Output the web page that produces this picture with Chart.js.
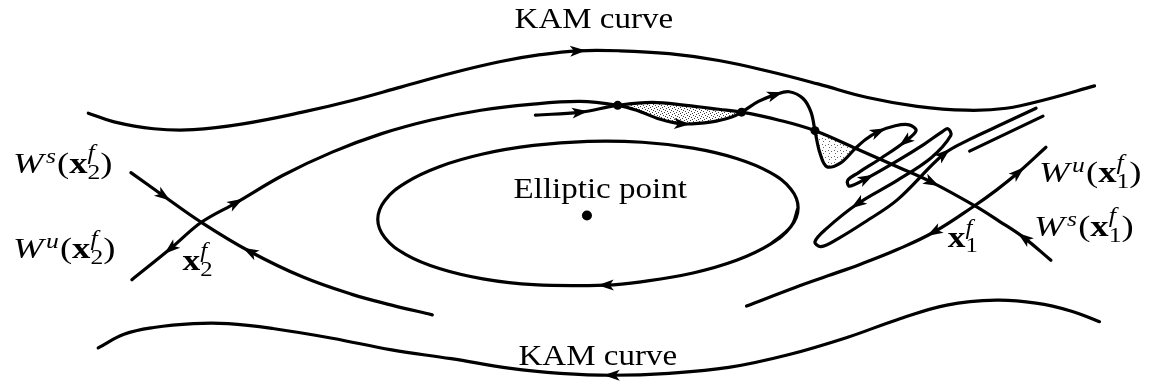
<!DOCTYPE html>
<html>
<head>
<meta charset="utf-8">
<script src="https://cdn.jsdelivr.net/npm/chart.js@4.4.1/dist/chart.umd.min.js"></script>
<style>
  html, body { margin: 0; padding: 0; background: #fff; overflow: hidden; }
  canvas { display: block; }
</style>
</head>
<body>
<canvas id="tangle" width="1161" height="389"></canvas>
<script>
// Phase-plane sketch of a homoclinic tangle between two KAM curves.
// Coordinates are in sketch units: x to the right, y downwards.

const kamUpper = [[84,111],[110,120],[150,127],[190,128],[240,122],[300,110],[350,98],[400,84],[450,70],[500,58],[540,51],[578,47],[620,47],[670,50],[720,57],[770,68],[820,81],[870,95],[920,104],[970,108],[1010,106],[1050,97],[1099,83]];
const kamLower = [[94,352],[120,338],[150,331],[190,327],[225,327],[270,332],[330,342],[390,354],[450,363],[510,373],[560,378],[612,380],[670,378],[730,372],[790,359],[850,341],[900,323],[950,308],[1000,303],[1040,306],[1075,314],[1104,325]];

// closed orbit around the elliptic point (first points repeated at the end to close it smoothly)
const orbit = [[800,208],[792.8,227.4],[771.6,245.8],[737.9,262.1],[694,275.1],[642.9,283.9],[606,287.5],[533.1,287.1],[482,281.1],[438.1,270.5],[404.4,256.2],[383.2,239],[376,220],[383.2,200.6],[404.4,182.2],[438.1,165.9],[482,152.9],[533.1,144.1],[588,140],[642.9,140.9],[694,146.9],[737.9,157.5],[771.6,171.8],[792.8,189],[800,208],[792.8,227.4],[771.6,245.8]];

// manifolds of the hyperbolic point x2
const stableX2 = [[127,172],[160,196],[198,223],[247,253],[300,279],[350,297],[390,308],[431,318]];
const unstableX2 = [[128,282],[167,250],[198,223],[233,203],[280,175],[330,151],[380,132],[430,118],[480,108],[530,102],[580,99],[618,103],
  [637,108],[660,117],[683,122],[713,120],[733,115],[743,110],
  [760,99],[777,92],[791,89],[805,96],[813,110],[817,129],
  [822,152],[829,166],[843,162],[857,148],[868,138],[881,130],[898,124],[912,123],[919,129],[908,140],[884,157],[861,172],[850,180],[852,186],
  [869,178],[900,160],[927,143],[944,131],[951,127],[954,134],[934,157],[900,180],[860,204],[828,230],[817,243],[823,248],[840,240],[867,223],[900,200],[947,153],[973,138],[1000,125],[1040,106]];
const unstableX2Piece = [[973,150],[1010,132],[1047,114]];

// manifolds of the hyperbolic point x1
const stableX1 = [[535,113],[580,110],[618,103],[653,100],[687,103],[720,107],[743,110],[780,118],[817,129],[860,148],[900,166],[935,182],[978,206],[1003,222],[1028,239],[1055,262]];
const unstableX1 = [[748,309],[797,290],[830,278],[863,266],[900,251],[937,233],[978,206],[1000,190],[1022,172],[1050,146]];

// lobes bounded by the two manifolds
const lobeA = [[618,103],[653,100],[687,103],[720,107],[743,110],[733,115],[713,120],[683,122],[660,117],[637,108],[618,103]];
const lobeB = [[817,129],[822,150],[829,165],[843,162],[857,148],[838,138],[817,129]];

const homoclinicPoints = [[618,103],[743,110],[817,129]];
const ellipticPoint = [[587,216]];

// flow direction marks: [point index, +1 along the list / -1 against it]
const kamUpperArrows = [[11, 1]];
const kamLowerArrows = [[11, -1]];
const orbitArrows = [[6, 1]];
const stableX2Arrows = [[1, 1], [3, -1]];
const unstableX2Arrows = [[1, -1], [3, 1], [14, 1], [19, 1], [29, 1], [33, 1], [38, 1], [46, 1], [53, 1]];
const stableX1Arrows = [[1, 1], [11, 1], [14, -1]];
const unstableX1Arrows = [[5, -1], [8, 1]];

// text
const kamText = 'KAM curve';
const ellipticText = 'Elliptic point';
const wsX2 = [['W','it'],['s','it','sup'],['(','rm'],['x','bf'],['f','it','supStack'],['2','rm','sub'],[')','rm']];
const wuX2 = [['W','it'],['u','it','sup'],['(','rm'],['x','bf'],['f','it','supStack'],['2','rm','sub'],[')','rm']];
const wuX1 = [['W','it'],['u','it','sup'],['(','rm'],['x','bf'],['f','it','supStack'],['1','rm','sub'],[')','rm']];
const wsX1 = [['W','it'],['s','it','sup'],['(','rm'],['x','bf'],['f','it','supStack'],['1','rm','sub'],[')','rm']];
const x2Name = [['x','bf'],['f','it','supStack'],['2','rm','sub']];
const x1Name = [['x','bf'],['f','it','supStack'],['1','rm','sub']];

const SERIF = '"Liberation Serif", "Times New Roman", serif';
const textLayout = [
  { runs: [[kamText, 'rm']], at: [514, 24], size: 30, stretch: 1.1 },
  { runs: [[kamText, 'rm']], at: [518, 370], size: 30, stretch: 1.1 },
  { runs: [[ellipticText, 'rm']], at: [513, 198], size: 30, stretch: 1.1 },
  { runs: wsX2, at: [8, 172], size: 30, stretch: 1.22 },
  { runs: wuX2, at: [8, 260], size: 30, stretch: 1.22 },
  { runs: x2Name, at: [179, 272], size: 29, stretch: 1.22 },
  { runs: wuX1, at: [1043, 182], size: 30, stretch: 1.22 },
  { runs: wsX1, at: [1038, 237], size: 30, stretch: 1.22 },
  { runs: x1Name, at: [951, 248], size: 29, stretch: 1.22 }
];

const toXY = pts => pts.map(([x, y]) => ({ x, y }));

function stipple(density, alpha) {
  const c = document.createElement('canvas');
  c.width = 6; c.height = 6;
  const g = c.getContext('2d');
  g.fillStyle = 'rgba(0,0,0,' + alpha + ')';
  const spots = [[0,0],[3,1],[1,3],[4,4],[2,5],[5,2]];
  spots.slice(0, density).forEach(([a, b]) => g.fillRect(a, b, 1, 1));
  return g.createPattern(c, 'repeat');
}

function curve(points, arrows, extra) {
  return Object.assign({
    data: toXY(points),
    showLine: true,
    borderColor: '#000',
    borderWidth: 3.2,
    borderCapStyle: 'round',
    borderJoinStyle: 'round',
    pointRadius: 0,
    pointHoverRadius: 0,
    tension: 0.4,
    fill: false,
    flowArrows: arrows || []
  }, extra || {});
}

const flowArrowPlugin = {
  id: 'flowArrows',
  afterDatasetsDraw(chart) {
    const ctx = chart.ctx;
    chart.data.datasets.forEach((ds, di) => {
      if (!ds.flowArrows || !ds.flowArrows.length) return;
      const pts = chart.getDatasetMeta(di).data;
      ds.flowArrows.forEach(([i, sense]) => {
        const p = pts[i];
        let dx = p.cp2x - p.cp1x, dy = p.cp2y - p.cp1y;
        if (!isFinite(dx) || !isFinite(dy) || Math.hypot(dx, dy) < 1e-3) {
          const a = pts[Math.max(i - 1, 0)], b = pts[Math.min(i + 1, pts.length - 1)];
          dx = b.x - a.x; dy = b.y - a.y;
        }
        const len = Math.hypot(dx, dy);
        const ux = sense * dx / len, uy = sense * dy / len;
        const nx = -uy, ny = ux;
        ctx.save();
        ctx.fillStyle = '#000';
        ctx.beginPath();
        ctx.moveTo(p.x + ux * 8, p.y + uy * 8);
        ctx.lineTo(p.x - ux * 8 + nx * 5.5, p.y - uy * 8 + ny * 5.5);
        ctx.lineTo(p.x - ux * 4, p.y - uy * 4);
        ctx.lineTo(p.x - ux * 8 - nx * 5.5, p.y - uy * 8 - ny * 5.5);
        ctx.closePath();
        ctx.fill();
        ctx.restore();
      });
    });
  }
};

function fontSpec(style, px) {
  const pre = style === 'it' ? 'italic ' : style === 'bf' ? 'bold ' : '';
  return pre + px + 'px ' + SERIF;
}

function drawRuns(ctx, runs, x, y, size, stretch) {
  ctx.save();
  ctx.translate(x, y);
  ctx.scale(stretch, 1);
  ctx.textBaseline = 'alphabetic';
  ctx.textAlign = 'left';
  ctx.fillStyle = '#000';
  let pen = 0, held = 0;
  runs.forEach(([text, style, place]) => {
    const script = !!place;
    const px = script ? size * 0.7 : size;
    ctx.font = fontSpec(style, px);
    const w = ctx.measureText(text).width;
    let dy = 0;
    if (place === 'sup') dy = -size * 0.33;
    if (place === 'supStack') dy = -size * 0.45;
    if (place === 'sub') dy = size * 0.2;
    const lift = place === 'sup' ? size * 0.04 : 0;
    ctx.fillText(text, pen + lift, dy);
    if (place === 'supStack') {
      held = w;
    } else {
      pen += Math.max(w + lift, held) + (style === 'it' ? size * 0.03 : 0);
      held = 0;
    }
  });
  ctx.restore();
}

const labelPlugin = {
  id: 'labels',
  afterDraw(chart) {
    const { ctx, scales } = chart;
    textLayout.forEach(item => {
      const px = scales.x.getPixelForValue(item.at[0]);
      const py = scales.y.getPixelForValue(item.at[1]);
      drawRuns(ctx, item.runs, px, py, item.size, item.stretch);
    });
  }
};

const datasets = [
  { data: toXY(homoclinicPoints), showLine: false, pointRadius: 4.5, pointBackgroundColor: '#000', pointBorderWidth: 0, pointHoverRadius: 4.5 },
  { data: toXY(ellipticPoint), showLine: false, pointRadius: 5, pointBackgroundColor: '#000', pointBorderWidth: 0, pointHoverRadius: 5 },
  curve(kamUpper, kamUpperArrows),
  curve(kamLower, kamLowerArrows),
  curve(orbit, orbitArrows),
  curve(stableX2, stableX2Arrows),
  curve(unstableX2, unstableX2Arrows, { tension: 0.35 }),
  curve(unstableX2Piece, []),
  curve(stableX1, stableX1Arrows),
  curve(unstableX1, unstableX1Arrows),
  curve(lobeA, [], { borderWidth: 0, fill: 'shape', backgroundColor: stipple(6, 0.75), tension: 0.3 }),
  curve(lobeB, [], { borderWidth: 0, fill: 'shape', backgroundColor: stipple(3, 0.6), tension: 0.2 })
];

new Chart(document.getElementById('tangle'), {
  type: 'scatter',
  data: { datasets },
  options: {
    responsive: false,
    devicePixelRatio: 1,
    animation: false,
    events: [],
    layout: { padding: 0 },
    plugins: { legend: { display: false }, tooltip: { enabled: false } },
    scales: {
      x: { type: 'linear', min: 0, max: 1161, display: false },
      y: { type: 'linear', min: 0, max: 389, reverse: true, display: false }
    }
  },
  plugins: [flowArrowPlugin, labelPlugin]
});
</script>
</body>
</html>
